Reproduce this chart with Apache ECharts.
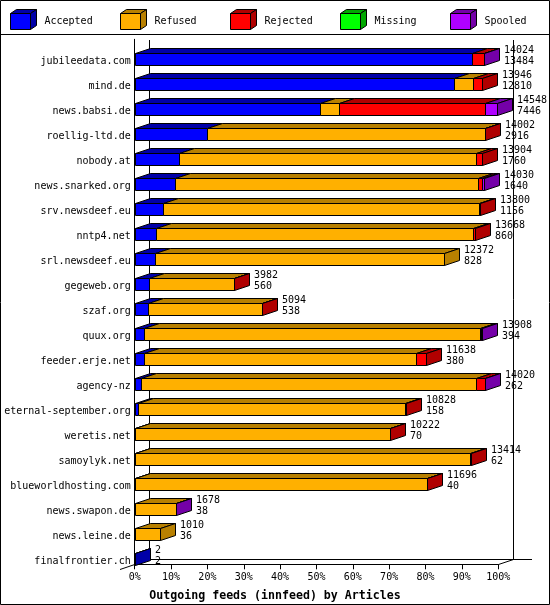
<!DOCTYPE html>
<html>
<head>
<meta charset="utf-8">
<script src="https://cdn.jsdelivr.net/npm/echarts@6/dist/echarts.min.js"></script>
<style>
html,body{margin:0;padding:0;background:#fff;}
#chart{width:550px;height:605px;}
</style>
</head>
<body>
<div id="chart"></div>
<script>
// ---- data ----
const hosts = ["jubileedata.com","mind.de","news.babsi.de","roellig-ltd.de","nobody.at","news.snarked.org","srv.newsdeef.eu","nntp4.net","srl.newsdeef.eu","gegeweb.org","szaf.org","quux.org","feeder.erje.net","agency-nz","eternal-september.org","weretis.net","samoylyk.net","blueworldhosting.com","news.swapon.de","news.leine.de","finalfrontier.ch"];
const totals = [14024,13946,14548,14002,13904,14030,13800,13668,12372,3982,5094,13908,11638,14020,10828,10222,13414,11696,1678,1010,2];
const acceptedCounts = [13484,12810,7446,2916,1760,1640,1156,860,828,560,538,394,380,262,158,70,62,40,38,36,2];
// bar segment widths in percent
const acceptedPct = [92.7,87.9,51.1,19.8,12.1,11.2,7.7,5.8,5.5,3.9,3.6,2.5,2.5,1.6,0.8,0.2,0.1,0.1,0,0,0.1];
const refusedPct  = [0,5.3,5.2,76.6,81.7,83.2,87.1,87.4,79.6,23.4,31.4,92.4,74.8,92.4,73.6,70.0,92.2,80.2,11.3,7.0,0];
const rejectedPct = [3.4,2.4,40.1,0.1,1.7,1.1,0.1,0.5,0,0.1,0.1,0.5,2.7,2.3,0.1,0.1,0.1,0.1,0,0,0];
const missingPct  = [0,0,0,0,0,0,0,0,0,0,0,0,0,0,0,0,0,0,0,0,0];
const spooledPct  = [0.1,0,3.4,0,0,0.5,0,0,0,0,0,0.1,0,0.1,0,0,0,0,0.1,0,0];
const statusNames = ["Accepted","Refused","Rejected","Missing","Spooled"];
const xTicks = {min:0, max:100, interval:10};

// ---- styles ----
const FRONT = ["#0000ff","#ffb000","#ff0000","#00ff00","#b000ff"];
const DARK  = ["#0000a8","#b88000","#b00000","#00a800","#7400a8"];
const MONO = "DejaVu Sans Mono";
const DX = 15, DY = 5, H = 12, OFF = 1.5;

const pctArrays = [acceptedPct, refusedPct, rejectedPct, missingPct, spooledPct];
const lastIdx = hosts.map((h, r) => {
  let l = 0;
  pctArrays.forEach((a, k) => { if (a[r] > 0) l = k; });
  return l;
});
const rowEnd = hosts.map((h, r) => pctArrays.reduce((s, a) => s + a[r], 0));

function segData(k) {
  return hosts.map((h, r) => {
    let start = 0;
    for (let j = 0; j < k; j++) start += pctArrays[j][r];
    return [start, start + pctArrays[k][r], r, lastIdx[r] === k ? 1 : 0, pctArrays[k][r]];
  });
}

function makeRender(k) {
  return function (params, api) {
    const v = api.value(4);
    if (!(v > 0)) return null;
    const s = api.value(0), e = api.value(1), row = api.value(2), last = api.value(3);
    const p0 = api.coord([s, row]), p1 = api.coord([e, row]);
    const x0 = Math.round(p0[0]) + 0.5, x1 = Math.round(p1[0]) + 0.5;
    const ft = Math.round(p0[1] + OFF) + 0.5, fb = ft + H;
    const st = {stroke: "#000", lineWidth: 1};
    const children = [
      {type: "polygon", shape: {points: [[x0, ft], [x1, ft], [x1 + DX, ft - DY], [x0 + DX, ft - DY]]},
       style: Object.assign({fill: DARK[k]}, st)},
      {type: "rect", shape: {x: x0, y: ft, width: Math.max(x1 - x0, 0), height: H},
       style: Object.assign({fill: FRONT[k]}, st)}
    ];
    if (last) {
      children.push({type: "polygon", shape: {points: [[x1, ft], [x1 + DX, ft - DY], [x1 + DX, fb - DY], [x1, fb]]},
        style: Object.assign({fill: DARK[k]}, st)});
    }
    return {type: "group", children: children};
  };
}

const series = statusNames.map((name, k) => ({
  type: "custom", name: name, data: segData(k), renderItem: makeRender(k),
  encode: {x: [0, 1], y: 2}, z: 3, silent: true
}));

series.push({
  type: "custom", name: "labels", z: 4, silent: true,
  data: hosts.map((h, r) => [rowEnd[r], r, totals[r], acceptedCounts[r]]),
  encode: {x: 0, y: 1},
  renderItem: function (params, api) {
    const p = api.coord([api.value(0), api.value(1)]);
    return {type: "text", x: Math.round(p[0]) + DX + 5, y: p[1] + 4,
      style: {text: api.value(2) + "\n" + api.value(3), font: "10px '" + MONO + "'", fill: "#000",
        align: "left", verticalAlign: "middle", lineHeight: 11}};
  }
});

// legend drawn as cubes + text
const legendX = [10, 120, 230, 340, 450];
const legendGraphics = [];
statusNames.forEach((name, k) => {
  const x = legendX[k] + 0.5, y = 13.5, w = 20, h = 16, dx = 6, dy = 4;
  const st = {stroke: "#000", lineWidth: 1};
  legendGraphics.push(
    {type: "polygon", shape: {points: [[x, y], [x + w, y], [x + w + dx, y - dy], [x + dx, y - dy]]}, style: Object.assign({fill: DARK[k]}, st)},
    {type: "polygon", shape: {points: [[x + w, y], [x + w + dx, y - dy], [x + w + dx, y + h - dy], [x + w, y + h]]}, style: Object.assign({fill: DARK[k]}, st)},
    {type: "rect", shape: {x: x, y: y, width: w, height: h}, style: Object.assign({fill: FRONT[k]}, st)},
    {type: "text", x: legendX[k] + 34.5, y: 21, style: {text: name, font: "10px '" + MONO + "'", fill: "#000", verticalAlign: "middle", align: "left"}}
  );
});

const frameLine = (pts) => ({type: "polyline", shape: {points: pts}, style: {stroke: "#000", lineWidth: 1, fill: null}, z: 0});

const chart = echarts.init(document.getElementById("chart"), null, {renderer: "canvas"});
chart.setOption({
  animation: false,
  backgroundColor: "#fff",
  title: {text: "Outgoing feeds (innfeed) by Articles", left: "center", top: 585,
    textStyle: {fontFamily: MONO, fontWeight: "bold", fontSize: 11.6, color: "#000"}},
  grid: {left: 134.7, right: 51.8, top: 39.3, bottom: 40.7, containLabel: false, outerBoundsMode: "none"},
  xAxis: {type: "value", min: xTicks.min, max: xTicks.max, interval: xTicks.interval,
    axisLine: {show: true, lineStyle: {color: "#000", width: 1}},
    axisTick: {show: true, length: 5, lineStyle: {color: "#000"}},
    splitLine: {show: false},
    axisLabel: {formatter: "{value}%", fontFamily: MONO, fontSize: 10, color: "#000", margin: 8}},
  yAxis: {type: "category", data: hosts, inverse: true,
    axisLine: {show: true, lineStyle: {color: "#000", width: 1}},
    axisTick: {show: false}, splitLine: {show: false},
    axisLabel: {fontFamily: MONO, fontSize: 10, color: "#000", margin: 4, verticalAlign: "top", lineHeight: 20}},
  graphic: [
    {type: "rect", shape: {x: 0.5, y: 0.5, width: 549, height: 604}, style: {stroke: "#000", fill: null, lineWidth: 1}, z: 0},
    frameLine([[0, 34.5], [550, 34.5]]),
    frameLine([[149.5, 40], [149.5, 559.5]]),
    frameLine([[513.5, 40], [513.5, 559.5]]),
    frameLine([[149.5, 559.5], [532, 559.5]]),
    frameLine([[120, 569.5], [149.5, 559.5]]),
    frameLine([[498.5, 564.5], [513.5, 559.5]])
  ].concat(legendGraphics),
  series: series
});
</script>
</body>
</html>
